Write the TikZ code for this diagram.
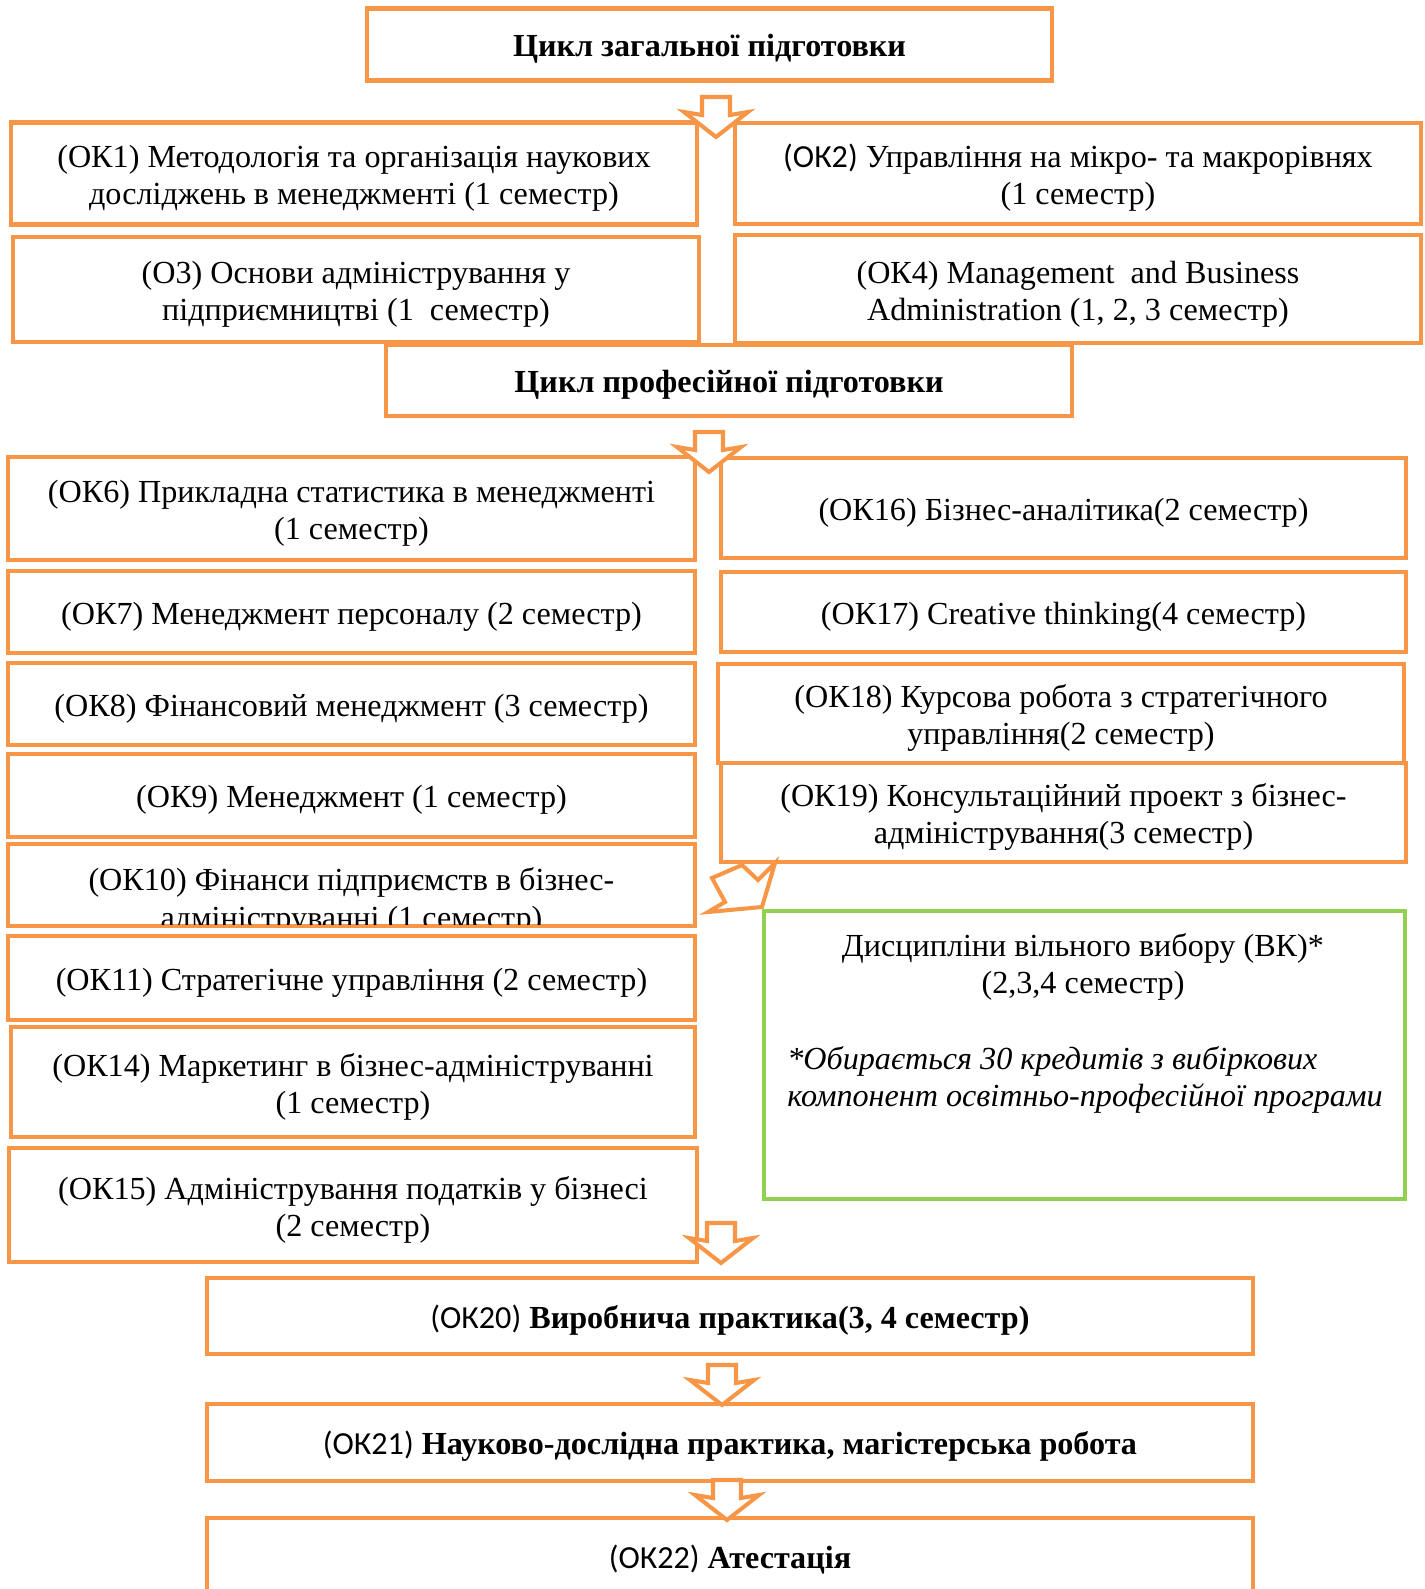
\documentclass[tikz,border=0pt]{standalone}
\usepackage{fontspec}
\setmainfont{Liberation Serif}
\newfontfamily\calibri{Carlito}
\definecolor{box_orange}{RGB}{247,150,70}
\definecolor{box_green}{RGB}{146,208,80}

% block arrow pointing down, #1 = top of its stem
\newcommand{\downblock}[1]{%
  \draw[box_orange, line width=2.3pt, fill=white, line join=miter]
    ([shift={(-14,0)}]#1) -- ([shift={(14,0)}]#1) -- ([shift={(14,18)}]#1)
    -- ([shift={(32,15)}]#1) -- ([shift={(0,40)}]#1) -- ([shift={(-32,15)}]#1)
    -- ([shift={(-14,18)}]#1) -- cycle;}

\begin{document}
\begin{tikzpicture}[x=0.02cm,y=-0.02cm]
    \tikzstyle{txt}=[align=center, inner sep=0pt, font=\fontsize{18.3}{21.2}\selectfont, execute at begin node={\rule{0pt}{17.9pt}}]
    \tikzstyle{two}=[execute at begin node={\rule{0pt}{39.5pt}}]
    \tikzstyle{box}=[txt, draw=box_orange, line width=2.3pt, fill=white, rectangle]
    \tikzstyle{greenbox}=[box, draw=box_green]
    \useasboundingbox (0,0) rectangle (1424,1589);

    \node[box, minimum width=13.7cm, minimum height=1.44cm] (top) at (709.5,44.5) {\bfseries Цикл загальної підготовки};

    \node[box, two, minimum width=13.72cm, minimum height=2.04cm] (ok1) at (354,173.5)  {(ОК1) Методологія та організація наукових\\досліджень в менеджменті (1 семестр)};
    \node[box, two, minimum width=13.72cm, minimum height=2.02cm] (ok2) at (1078,173.5) {{\calibri (ОК2)} Управління на мікро- та макрорівнях\\(1 семестр)};
    \node[box, two, minimum width=13.74cm, minimum height=2.1cm]  (o3)  at (356,289.5)  {(О3) Основи адміністрування у\\підприємництві (1\ \ семестр)};
    \node[box, two, minimum width=13.72cm, minimum height=2.16cm] (ok4) at (1078,289)   {(ОК4) Management\ \ and Business\\Administration (1, 2, 3 семестр)};
    \node[box, minimum width=13.72cm, minimum height=1.42cm] (prof) at (729,380.5) {\bfseries Цикл професійної підготовки};

    % left column
    \node[box, two, minimum width=13.74cm, minimum height=2.06cm] (ok6) at (351.5,508.5) {(ОК6) Прикладна статистика в менеджменті\\(1 семестр)};
    \node[box, minimum width=13.74cm, minimum height=1.64cm] (ok7) at (351.5,612)   {(ОК7) Менеджмент персоналу (2 семестр)};
    \node[box, minimum width=13.74cm, minimum height=1.64cm] (ok8) at (351.5,704)   {(ОК8) Фінансовий менеджмент (3 семестр)};
    \node[box, minimum width=13.74cm, minimum height=1.66cm] (ok9) at (351.5,795.5) {(ОК9) Менеджмент (1 семестр)};
    \node[box, minimum width=13.74cm, minimum height=1.64cm] (ok10) at (351.5,885) {};
    \begin{scope}
      \clip (ok10.north west) rectangle ([yshift=2pt]ok10.south east);
      \node[txt, two] (ok10t) at (351.5,897) {(ОК10) Фінанси підприємств в бізнес-\\адмініструванні (1 семестр)};
    \end{scope}
    \node[box, minimum width=13.74cm, minimum height=1.68cm] (ok11) at (351.5,978)  {(ОК11) Стратегічне управління (2 семестр)};
    \node[box, two, minimum width=13.68cm, minimum height=2.2cm]  (ok14) at (353,1082)   {(ОК14) Маркетинг в бізнес-адмініструванні\\(1 семестр)};
    \node[box, two, minimum width=13.76cm, minimum height=2.28cm] (ok15) at (353,1205)   {(ОК15) Адміністрування податків у бізнесі\\(2 семестр)};

    % right column
    \node[box, minimum width=13.7cm, minimum height=2.0cm]   (ok16) at (1063.5,508) {(ОК16) Бізнес-аналітика(2 семестр)};
    \node[box, minimum width=13.7cm, minimum height=1.6cm]   (ok17) at (1063.5,612) {(ОК17) Creative thinking(4 семестр)};
    \node[box, two, minimum width=13.72cm, minimum height=1.98cm] (ok18) at (1061,713.5) {(ОК18) Курсова робота з стратегічного\\управління(2 семестр)};
    \node[box, two, minimum width=13.7cm, minimum height=1.98cm]  (ok19) at (1063.5,812.5) {(ОК19) Консультаційний проект з бізнес-\\адміністрування(3 семестр)};

    \node[greenbox, minimum width=12.82cm, minimum height=5.76cm] (vk) at (1084.5,1055) {};
    \node[txt, two] (vkt) at (1083,962) {Дисципліни вільного вибору (ВК)*\\(2,3,4 семестр)};
    \node[txt, two, anchor=west, align=left, font=\fontsize{18.3}{21.2}\selectfont\itshape] (vkn) at (787,1075) {*Обирається 30 кредитів з вибіркових\\компонент освітньо-професійної програми};

    % bottom
    \node[box, minimum width=20.92cm, minimum height=1.52cm] (ok20) at (730,1316)   {{\calibri (ОК20)} \bfseries Виробнича практика(3, 4 семестр)};
    \node[box, minimum width=20.92cm, minimum height=1.54cm] (ok21) at (730,1442.5) {{\calibri (ОК21)} \bfseries Науково-дослідна практика, магістерська робота};
    \node[box, minimum width=20.92cm, minimum height=1.52cm] (ok22) at (730,1556)   {{\calibri (ОК22)} \bfseries Атестація};

    % block arrows
    \coordinate (a1) at (716,97);
    \coordinate (a2) at (709,432);
    \coordinate (a3) at (721,1223);
    \coordinate (a4) at (722,1365);
    \coordinate (a5) at (727,1480);
    \downblock{a1}
    \downblock{a2}
    \downblock{a3}
    \downblock{a4}
    \downblock{a5}
    \draw[box_orange, line width=2.3pt, fill=white, line join=miter]
      (712,878) -- (742,865) -- (758,880) -- (775,863) -- (762,907) -- (708,912) -- (725,902) -- cycle;
\end{tikzpicture}
\end{document}
